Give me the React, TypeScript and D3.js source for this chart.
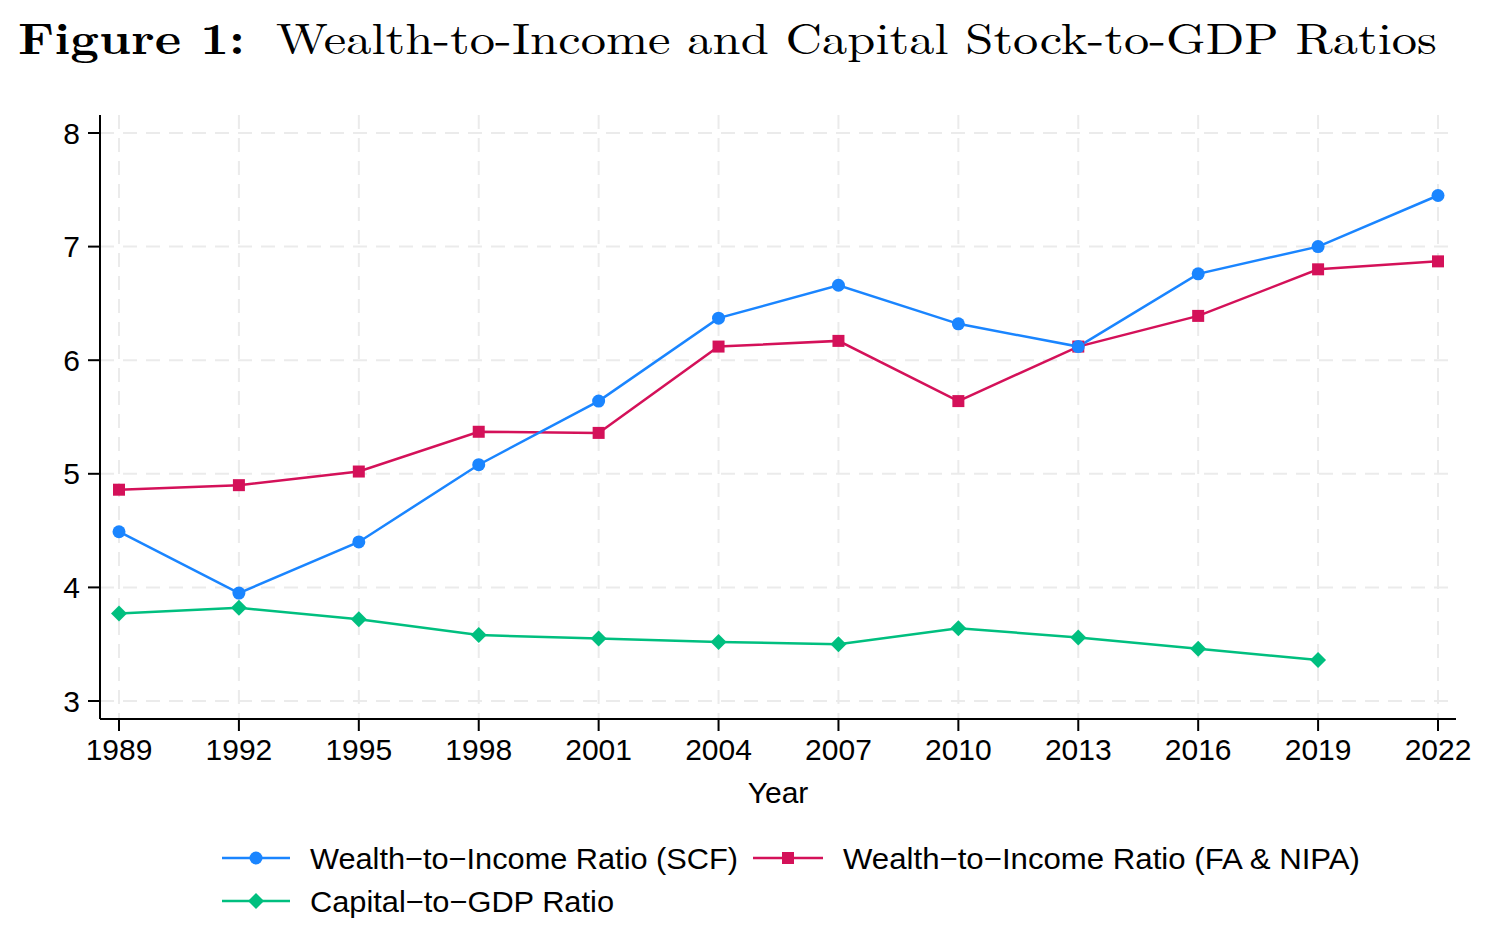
import React from "react";
import * as d3 from "d3";

const years = [1989, 1992, 1995, 1998, 2001, 2004, 2007, 2010, 2013, 2016, 2019, 2022];
const scf = [4.49, 3.95, 4.40, 5.08, 5.64, 6.37, 6.66, 6.32, 6.12, 6.76, 7.00, 7.45];
const fanipa = [4.86, 4.90, 5.02, 5.37, 5.36, 6.12, 6.17, 5.64, 6.12, 6.39, 6.80, 6.87];
const capYears = [1989, 1992, 1995, 1998, 2001, 2004, 2007, 2010, 2013, 2016, 2019];
const capital = [3.77, 3.82, 3.72, 3.58, 3.55, 3.52, 3.50, 3.64, 3.56, 3.46, 3.36];
const yTicks = [3, 4, 5, 6, 7, 8];

const BLUE = "#1a85ff";
const RED = "#d41159";
const GREEN = "#00bf7f";

const W = 1489, H = 946;
const axL = 100, axB = 719, axR = 1456, axT = 115;

export default function App() {
  const x = d3.scaleLinear().domain([1989, 2022]).range([119, 1438]);
  const y = d3.scaleLinear().domain([3, 8]).range([701, 133]);
  const line = d3.line<[number, number]>().x(d => x(d[0])).y(d => y(d[1]));
  const scfPts = years.map((yr, i) => [yr, scf[i]] as [number, number]);
  const faPts = years.map((yr, i) => [yr, fanipa[i]] as [number, number]);
  const capPts = capYears.map((yr, i) => [yr, capital[i]] as [number, number]);
  const sans = "'Liberation Sans', Arial, sans-serif";
  const serif = "'Latin Modern Roman', 'DejaVu Serif', 'Liberation Serif', serif";

  const circle = (cx: number, cy: number, c: string, k: string) => (
    <circle key={k} cx={cx} cy={cy} r={6.5} fill={c} />
  );
  const square = (cx: number, cy: number, c: string, k: string) => (
    <rect key={k} x={cx - 6} y={cy - 6} width={12} height={12} fill={c} />
  );
  const diamond = (cx: number, cy: number, c: string, k: string) => (
    <path key={k} d={`M${cx},${cy - 8}L${cx + 8},${cy}L${cx},${cy + 8}L${cx - 8},${cy}Z`} fill={c} />
  );

  return (
    <svg width={W} height={H} style={{ display: "block", position: "absolute", left: 0, top: 0 }}>
      <rect width={W} height={H} fill="#fff" />
      <text x={18} y={54} fontFamily={serif} fontWeight="bold" fontSize={44} textLength={227} lengthAdjust="spacingAndGlyphs">Figure 1:</text>
      <text x={276} y={54} fontFamily={serif} fontSize={44} textLength={1161} lengthAdjust="spacingAndGlyphs">Wealth-to-Income and Capital Stock-to-GDP Ratios</text>

      {/* grid */}
      {yTicks.map(t => (
        <line key={"gy" + t} x1={axL} x2={1452} y1={y(t)} y2={y(t)} stroke="#ebebeb" strokeWidth={2} strokeDasharray="14 9" />
      ))}
      {years.map(t => (
        <line key={"gx" + t} x1={x(t)} x2={x(t)} y1={axT} y2={axB} stroke="#ebebeb" strokeWidth={2} strokeDasharray="14 9" />
      ))}

      {/* axes */}
      <line x1={axL} x2={axL} y1={axT} y2={axB} stroke="#000" strokeWidth={2} />
      <line x1={axL} x2={axR} y1={axB} y2={axB} stroke="#000" strokeWidth={2} />
      {yTicks.map(t => (
        <g key={"ty" + t}>
          <line x1={axL - 12} x2={axL} y1={y(t)} y2={y(t)} stroke="#000" strokeWidth={2} />
          <text x={80} y={y(t) + 10.5} textAnchor="end" fontFamily={sans} fontSize={30}>{t}</text>
        </g>
      ))}
      {years.map(t => (
        <g key={"tx" + t}>
          <line x1={x(t)} x2={x(t)} y1={axB} y2={axB + 12} stroke="#000" strokeWidth={2} />
          <text x={x(t)} y={760} textAnchor="middle" fontFamily={sans} fontSize={30}>{t}</text>
        </g>
      ))}
      <text x={778} y={803} textAnchor="middle" fontFamily={sans} fontSize={30}>Year</text>

      {/* series */}
      <path d={line(capPts) || ""} fill="none" stroke={GREEN} strokeWidth={2.5} />
      <path d={line(faPts) || ""} fill="none" stroke={RED} strokeWidth={2.5} />
      <path d={line(scfPts) || ""} fill="none" stroke={BLUE} strokeWidth={2.5} />
      {capPts.map((p, i) => diamond(x(p[0]), y(p[1]), GREEN, "d" + i))}
      {faPts.map((p, i) => square(x(p[0]), y(p[1]), RED, "s" + i))}
      {scfPts.map((p, i) => circle(x(p[0]), y(p[1]), BLUE, "c" + i))}

      {/* legend */}
      <line x1={222} x2={290} y1={858} y2={858} stroke={BLUE} strokeWidth={2.5} />
      {circle(256, 858, BLUE, "lc")}
      <text x={310} y={869} fontFamily={sans} fontSize={30} textLength={428} lengthAdjust="spacingAndGlyphs">Wealth−to−Income Ratio (SCF)</text>
      <line x1={753} x2={823} y1={858} y2={858} stroke={RED} strokeWidth={2.5} />
      {square(788, 858, RED, "ls")}
      <text x={843} y={869} fontFamily={sans} fontSize={30} textLength={517} lengthAdjust="spacingAndGlyphs">Wealth−to−Income Ratio (FA &amp; NIPA)</text>
      <line x1={222} x2={290} y1={901} y2={901} stroke={GREEN} strokeWidth={2.5} />
      {diamond(256, 901, GREEN, "ld")}
      <text x={310} y={912} fontFamily={sans} fontSize={30} textLength={304} lengthAdjust="spacingAndGlyphs">Capital−to−GDP Ratio</text>
    </svg>
  );
}
